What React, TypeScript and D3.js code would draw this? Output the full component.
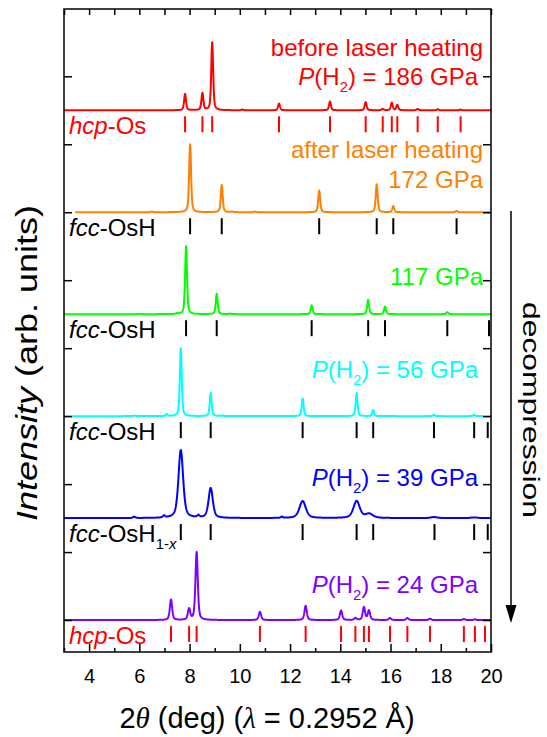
import React, { useEffect, useRef } from 'react';
import * as d3 from 'd3';

const W = 547;
const H = 737;

// 2theta axis
const xTickValues = [4, 6, 8, 10, 12, 14, 16, 18, 20];
const xMinorValues = [3, 5, 7, 9, 11, 13, 15, 17, 19];
const yTickValues = [0, 1, 2, 3, 4, 5, 6, 7, 8];

// patterns, top to bottom: [2theta, relative intensity, fwhm]
const peaks186 = [
  [7.82, 0.24], [8.51, 0.25], [8.9, 1.0], [10.1, 0.01], [11.56, 0.1], [13.59, 0.13],
  [15.01, 0.12], [15.69, 0.02], [16.05, 0.11], [16.27, 0.08], [17.08, 0.02], [17.88, 0.015], [18.79, 0.01]
];
const peaks172 = [
  [6.5, 0.01], [8.02, 1.0], [9.28, 0.4], [9.7, 0.01], [10.6, 0.01], [13.16, 0.32],
  [15.45, 0.41], [16.11, 0.09], [18.63, 0.02]
];
const peaks117 = [
  [6.0, 0.005], [7.5, 0.01], [7.86, 1.0], [9.08, 0.3], [9.6, 0.01], [12.86, 0.13],
  [15.11, 0.21], [15.78, 0.11], [18.26, 0.03]
];
const peaks56 = [
  [5.8, 0.01], [7.09, 0.03], [7.65, 1.0], [8.84, 0.34], [9.3, 0.01], [12.5, 0.26],
  [14.65, 0.34], [15.31, 0.09], [17.73, 0.02], [19.33, 0.02]
];
const peaks39 = [
  [5.79, 0.02, 0.1], [6.98, 0.03, 0.1], [7.65, 1.0, 0.22], [8.35, 0.03, 0.1], [8.84, 0.44, 0.2],
  [11.67, 0.02, 0.08], [12.5, 0.25, 0.3], [14.65, 0.25, 0.3], [15.15, 0.06, 0.35],
  [17.73, 0.015, 0.3], [19.33, 0.01, 0.3]
];
const peaks24 = [
  [7.26, 0.3], [7.98, 0.16], [8.28, 1.0], [10.8, 0.12], [12.62, 0.21], [14.03, 0.14],
  [14.6, 0.03], [14.94, 0.19], [15.14, 0.14], [15.98, 0.03], [16.67, 0.03], [17.57, 0.02],
  [18.92, 0.015], [19.36, 0.01]
];

// reflection markers
const hcpOs186 = [7.82, 8.51, 8.9, 11.56, 13.59, 15.01, 15.69, 16.05, 16.27, 17.08, 17.88, 18.79];
const fccOsH172 = [8.02, 9.28, 13.16, 15.45, 16.11, 18.63];
const fccOsH117 = [7.86, 9.08, 12.86, 15.11, 15.78, 18.26, 19.92];
const fccOsH56 = [7.65, 8.84, 12.5, 14.65, 15.31, 17.73, 19.33, 19.87];
const fccOsH39 = [7.65, 8.84, 12.5, 14.65, 15.31, 17.75, 19.33, 19.87];
const hcpOs24 = [7.26, 7.98, 8.28, 10.8, 12.62, 14.03, 14.6, 14.94, 15.14, 15.98, 16.67, 17.57, 18.92, 19.36, 19.76];

const offsets = [7.5, 6, 4.5, 3, 1.5, 0];
const colors = ['#ff0000', '#ff8000', '#00ff00', '#00ffff', '#0000ff', '#8000ff'];
const fwhm = [0.09, 0.09, 0.09, 0.09, 0.22, 0.11];
const starts = [3, 3.45, 3, 3, 3, 3];
const patterns = [peaks186, peaks172, peaks117, peaks56, peaks39, peaks24];
const markers = [hcpOs186, fccOsH172, fccOsH117, fccOsH56, fccOsH39, hcpOs24];
const markerColors = ['#ff0000', '#000', '#000', '#000', '#000', '#ff0000'];

type Part = { t: string; i?: boolean; sub?: boolean };
const phaseLabels: Part[][] = [
  [{ t: 'hcp', i: true }, { t: '-Os' }],
  [{ t: 'fcc', i: true }, { t: '-OsH' }],
  [{ t: 'fcc', i: true }, { t: '-OsH' }],
  [{ t: 'fcc', i: true }, { t: '-OsH' }],
  [{ t: 'fcc', i: true }, { t: '-OsH' }, { t: '1-', sub: true }, { t: 'x', sub: true, i: true }],
  [{ t: 'hcp', i: true }, { t: '-Os' }]
];
const pH2 = (v: string): Part[] => [{ t: 'P', i: true }, { t: '(H' }, { t: '2', sub: true }, { t: `) = ${v} GPa` }];
// [pattern index, dy from baseline, right inset, parts]
const pressureLabels: [number, number, number, Part[]][] = [
  [0, -54, 8, [{ t: 'before laser heating' }]],
  [0, -25, 13, pH2('186')],
  [1, -54, 8, [{ t: 'after laser heating' }]],
  [1, -24, 8, [{ t: '172 GPa' }]],
  [2, -29, 8, [{ t: '117 GPa' }]],
  [3, -38, 13, pH2('56')],
  [4, -32, 13, pH2('39')],
  [5, -27, 13, pH2('24')]
];

const addParts = (text: any, parts: Part[], size: number) => {
  let down = false;
  parts.forEach(p => {
    const ts = text.append('tspan').text(p.t);
    if (p.i) ts.attr('font-style', 'italic');
    if (p.sub) {
      ts.attr('font-size', size * 0.62);
      if (!down) ts.attr('dy', size * 0.3);
      down = true;
    } else if (down) {
      ts.attr('dy', -size * 0.3);
      down = false;
    }
  });
};

const profile = (pk: number[][], w: number, x0: number) =>
  d3.range(x0, 20.0001, 0.01).map(t => {
    let s = 0;
    pk.forEach(p => {
      const f = p[2] || w;
      const u = (t - p[0]) / f;
      s += p[1] * (0.5 / (1 + 4 * u * u) + 0.5 * Math.exp(-4 * Math.LN2 * u * u));
    });
    return [t, s];
  });

const App = () => {
  const ref = useRef<SVGSVGElement>(null);

  useEffect(() => {
    document.body.style.margin = '0';
    const svg = d3.select(ref.current);
    svg.selectAll('*').remove();

    const margin = { top: 9, right: 56, bottom: 85, left: 64 };
    const w = W - margin.left - margin.right;
    const h = H - margin.top - margin.bottom;
    const g = svg.append('g').attr('transform', `translate(${margin.left},${margin.top})`);

    const x = d3.scaleLinear().domain([3, 20]).range([0, w]);
    const y = d3.scaleLinear().domain([-0.47, 8.99]).range([h, 0]);

    // traces
    const line = d3.line<number[]>().x(d => x(d[0])).y(d => y(d[1]));
    patterns.forEach((pk, k) => {
      const pts = profile(pk, fwhm[k], starts[k]).map(d => [d[0], d[1] + offsets[k]]);
      g.append('path')
        .attr('d', line(pts))
        .attr('fill', 'none')
        .attr('stroke', colors[k])
        .attr('stroke-width', 2)
        .attr('stroke-linejoin', 'round');
    });

    // reflection markers
    markers.forEach((m, k) => {
      const y0 = y(offsets[k]);
      g.append('g').selectAll('line').data(m).join('line')
        .attr('x1', d => x(d)).attr('x2', d => x(d))
        .attr('y1', y0 + 6).attr('y2', y0 + 22)
        .attr('stroke', markerColors[k]).attr('stroke-width', 2);
    });

    // phase labels
    phaseLabels.forEach((parts, k) => {
      const t = g.append('text')
        .attr('x', 5).attr('y', y(offsets[k]) + 24)
        .attr('font-size', 24).attr('fill', markerColors[k]);
      addParts(t, parts, 24);
    });

    // pressure labels
    pressureLabels.forEach(([k, dy, inset, parts]) => {
      const t = g.append('text')
        .attr('x', w - inset).attr('y', y(offsets[k]) + dy)
        .attr('text-anchor', 'end')
        .attr('font-size', 24).attr('fill', colors[k]);
      addParts(t, parts, 24);
    });

    // axes, ticks inward
    const clean = (sel: any) => sel.select('.domain').remove();
    g.append('g').attr('transform', `translate(0,${h})`)
      .call(d3.axisBottom(x).tickValues(xTickValues).tickSize(-8).tickPadding(17))
      .call(clean)
      .call((s: any) => s.selectAll('text').attr('font-size', 20).attr('fill', '#000').attr('font-family', 'inherit'))
      .call((s: any) => s.selectAll('line').attr('stroke-width', 1.5));
    g.append('g').attr('transform', `translate(0,${h})`)
      .call(d3.axisBottom(x).tickValues(xMinorValues).tickSize(-4).tickFormat(() => ''))
      .call(clean)
      .call((s: any) => s.selectAll('line').attr('stroke-width', 1.5));
    g.append('g')
      .call(d3.axisTop(x).tickValues(d3.range(3, 21, 1)).tickSize(-6).tickFormat(() => ''))
      .call(clean)
      .call((s: any) => s.selectAll('line').attr('stroke-width', 1.5));
    g.append('g')
      .call(d3.axisLeft(y).tickValues(yTickValues).tickSize(-8).tickFormat(() => ''))
      .call(clean)
      .call((s: any) => s.selectAll('line').attr('stroke-width', 1.5));
    g.append('g').attr('transform', `translate(${w},0)`)
      .call(d3.axisRight(y).tickValues(yTickValues).tickSize(-8).tickFormat(() => ''))
      .call(clean)
      .call((s: any) => s.selectAll('line').attr('stroke-width', 1.5));

    g.append('rect')
      .attr('width', w).attr('height', h)
      .attr('fill', 'none').attr('stroke', '#000').attr('stroke-width', 1.5);

    // axis titles
    const xt = svg.append('text')
      .attr('x', 267).attr('y', 728)
      .attr('text-anchor', 'middle').attr('font-size', 29);
    xt.append('tspan').text('2');
    xt.append('tspan').text('\u03b8').attr('font-style', 'italic').attr('font-family', 'Liberation Serif');
    xt.append('tspan').text(' (deg) (');
    xt.append('tspan').text('\u03bb').attr('font-style', 'italic').attr('font-family', 'Liberation Serif');
    xt.append('tspan').text(' = 0.2952 \u00c5)');

    const yt = svg.append('text')
      .attr('transform', 'translate(37,521) rotate(-90)')
      .attr('text-anchor', 'start').attr('font-size', 29)
      .attr('textLength', 316).attr('lengthAdjust', 'spacingAndGlyphs');
    yt.append('tspan').text('Intensity').attr('font-style', 'italic');
    yt.append('tspan').text(' (arb. units)');

    // decompression arrow
    svg.append('line')
      .attr('x1', 511).attr('x2', 511).attr('y1', 211).attr('y2', 607)
      .attr('stroke', '#000').attr('stroke-width', 1.5);
    svg.append('path')
      .attr('d', 'M505.5,605L516.5,605L511,623Z')
      .attr('fill', '#000');
    svg.append('text')
      .attr('transform', 'translate(523,410) rotate(90)')
      .attr('text-anchor', 'middle').attr('font-size', 24)
      .attr('textLength', 216).attr('lengthAdjust', 'spacingAndGlyphs')
      .text('decompression');
  }, []);

  return (
    <svg ref={ref} width={W} height={H}
      style={{ display: 'block', fontFamily: '"Liberation Sans", Arial, sans-serif', background: '#fff' }} />
  );
};

export default App;
